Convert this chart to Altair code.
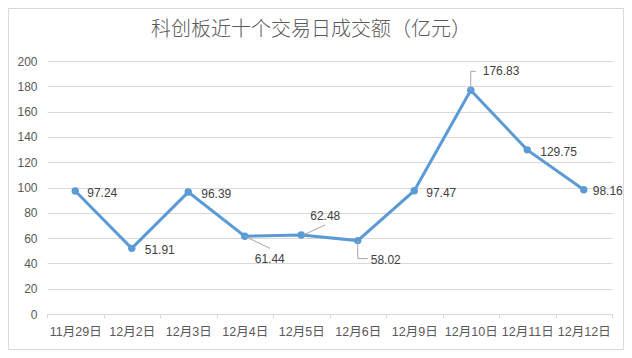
import altair as alt
import pandas as pd

title_text = "科创板近十个交易日成交额（亿元）"
dates = ["11月29日", "12月2日", "12月3日", "12月4日", "12月5日",
         "12月6日", "12月9日", "12月10日", "12月11日", "12月12日"]
values = [97.24, 51.91, 96.39, 61.44, 62.48, 58.02, 97.47, 176.83, 129.75, 98.16]
y_ticks = [0, 20, 40, 60, 80, 100, 120, 140, 160, 180, 200]

df = pd.DataFrame({"date": dates, "value": values})
df["label"] = [f"{v:.2f}" for v in values]

W, H = 565, 253
PAD = {"left": 39, "top": 53, "right": 12, "bottom": 36}
FONT = "'Liberation Sans', 'Noto Sans CJK SC', sans-serif"
BLUE = "#5B9BD5"

x_enc = alt.X(
    "date:N", sort=dates, title=None,
    scale=alt.Scale(type="band", paddingInner=0, paddingOuter=0),
    axis=alt.Axis(labelAngle=0, labelFont=FONT, labelFontSize=12.5, labelColor="#595959",
                  domainColor="#D9D9D9", tickColor="#D9D9D9", tickSize=4,
                  tickBand="extent", labelPadding=7, grid=False),
)
y_enc = alt.Y(
    "value:Q", title=None,
    scale=alt.Scale(domain=[0, 200], nice=False),
    axis=alt.Axis(values=y_ticks, labelFont=FONT, labelFontSize=12, labelColor="#595959",
                  domain=False, ticks=False, labelPadding=10,
                  gridColor="#D9D9D9", gridWidth=1),
)

base = alt.Chart(df).encode(x=x_enc, y=y_enc)

line = base.mark_line(color=BLUE, strokeWidth=3)
pts = base.mark_point(filled=True, color=BLUE, size=55, opacity=1)

label_style = dict(align="left", baseline="middle", font=FONT, fontSize=12, color="#404040")

# label offsets (dx, dy) from each point
label_offsets = {
    "11月29日": (12, 2),
    "12月2日": (13, 2),
    "12月3日": (13, 2),
    "12月4日": (10, 23),
    "12月5日": (9, -19),
    "12月6日": (13, 19),
    "12月9日": (12, 2),
    "12月10日": (12, -19),
    "12月11日": (13, 2),
    "12月12日": (9, 1),
}
layers = [line, pts]
for d, (dx, dy) in label_offsets.items():
    layers.append(
        base.transform_filter(alt.datum.date == d)
        .mark_text(dx=dx, dy=dy, **label_style).encode(text="label:N")
    )

# leader lines: (date, x0, y0, x1, y1) offsets from the point
leaders = [
    ("12月4日", 0, 0, 25, 12),
    ("12月5日", 2, 0, 24, -10),
    ("12月6日", 0, 0, 0, 18),
    ("12月6日", 0, 18, 10, 18),
    ("12月10日", 0, 0, 0, -19),
    ("12月10日", 0, -19, 5, -19),
]
for d, x0, y0, x1, y1 in leaders:
    layers.append(
        alt.Chart(df).transform_filter(alt.datum.date == d)
        .mark_rule(color="#A6A6A6", strokeWidth=1,
                   xOffset=x0, yOffset=y0, x2Offset=x1, y2Offset=y1)
        .encode(x=x_enc, x2="date:N", y=y_enc, y2="value:Q")
    )

one = pd.DataFrame({"t": [title_text]})
title = alt.Chart(one).mark_text(
    font="'Noto Sans CJK SC', sans-serif", fontSize=20, fontWeight=300, color="#595959",
    align="center", baseline="middle"
).encode(text="t:N", x=alt.value(264), y=alt.value(-31))

border = alt.Chart(one).mark_rect(
    fill="transparent", stroke="#D9D9D9", strokeWidth=1
).encode(
    x=alt.value(-PAD["left"] + 0.5), x2=alt.value(W + PAD["right"] - 0.5),
    y=alt.value(-PAD["top"] + 0.5), y2=alt.value(H + PAD["bottom"] - 0.5),
)

chart = alt.layer(border, *layers, title).properties(
    width=W, height=H,
    autosize=alt.AutoSizeParams(type="none"),
    padding=PAD,
    background="white",
).configure_view(stroke="transparent")

chart.save("out.html", embed_options={"renderer": "svg", "actions": False})
